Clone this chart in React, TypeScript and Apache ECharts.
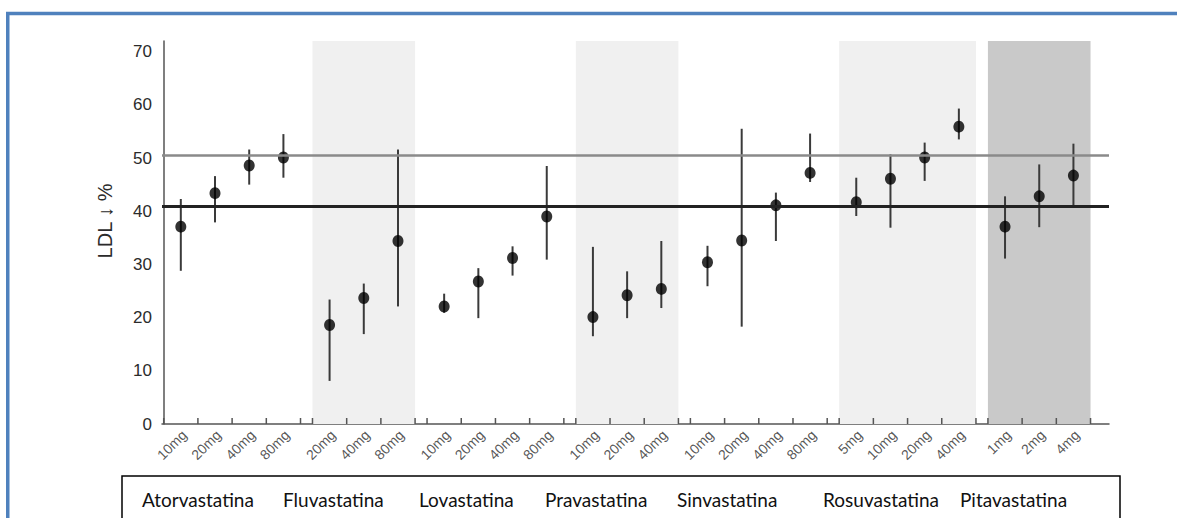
import React, { useEffect, useRef } from "react";
import * as echarts from "echarts";

// ---- data ----
const drugNames = ["Atorvastatina", "Fluvastatina", "Lovastatina", "Pravastatina", "Sinvastatina", "Rosuvastatina", "Pitavastatina"];
const doses = [
  ["10mg", "20mg", "40mg", "80mg"],
  ["20mg", "40mg", "80mg"],
  ["10mg", "20mg", "40mg", "80mg"],
  ["10mg", "20mg", "40mg"],
  ["10mg", "20mg", "40mg", "80mg"],
  ["5mg", "10mg", "20mg", "40mg"],
  ["1mg", "2mg", "4mg"],
];
const means = [
  [37.1, 43.4, 48.6, 50.1],
  [18.6, 23.7, 34.4],
  [22.1, 26.8, 31.2, 39.0],
  [20.1, 24.2, 25.4],
  [30.4, 34.5, 41.1, 47.2],
  [41.7, 46.1, 50.1, 55.9],
  [37.1, 42.8, 46.7],
];
const lows = [
  [28.8, 37.9, 45.0, 46.3],
  [8.1, 16.9, 22.1],
  [20.9, 19.9, 27.9, 30.9],
  [16.5, 19.9, 21.8],
  [25.9, 18.3, 34.4, 45.5],
  [39.1, 36.9, 45.7, 53.5],
  [31.1, 37.0, 41.0],
];
const highs = [
  [42.3, 46.6, 51.6, 54.5],
  [23.4, 26.4, 51.6],
  [24.5, 29.3, 33.4, 48.5],
  [33.3, 28.7, 34.4],
  [33.5, 55.5, 43.5, 54.6],
  [46.3, 50.7, 52.9, 59.3],
  [42.8, 48.8, 52.7],
];
const bandShade = ["none", "light", "none", "light", "none", "light", "dark"];
const refLines = [50.6, 40.95];
const yTicks = [0, 10, 20, 30, 40, 50, 60, 70];
const yAxisName = "LDL \u2193 %";

// ---- layout ----
const GAP = 0.35;
const nameX = [142, 283, 419, 545, 677, 823, 960];

export default function App() {
  const ref = useRef<HTMLDivElement>(null);
  useEffect(() => {
    document.body.style.margin = "0";
    document.body.style.overflow = "hidden";
    if (!ref.current) return;
    const chart = echarts.init(ref.current, undefined, { renderer: "svg" });

    const points: any[] = [];
    const bars: any[] = [];
    const labels: any[] = [];
    const ticks: any[] = [];
    const bands: any[] = [];
    let k = 0;
    doses.forEach((ds, g) => {
      const start = k + g * GAP;
      const end = start + ds.length;
      for (let m = 0; m <= ds.length; m++) ticks.push([start + m, 0]);
      if (bandShade[g] !== "none") {
        bands.push([
          { xAxis: start, itemStyle: { color: bandShade[g] === "dark" ? "#c9c9c9" : "#f0f0f0" } },
          { xAxis: end },
        ]);
      }
      ds.forEach((d, j) => {
        const x = start + j + 0.5;
        points.push([x, means[g][j]]);
        bars.push([x, lows[g][j], highs[g][j]]);
        labels.push([x, 0, d]);
      });
      k += ds.length;
    });

    chart.setOption({
      animation: false,
      grid: { left: 162, right: 68, top: 41, bottom: 94, containLabel: false },
      xAxis: {
        type: "value",
        min: -0.05,
        max: 27.64,
        axisLine: { show: true, lineStyle: { color: "#555", width: 1.5 } },
        axisTick: { show: false },
        axisLabel: { show: false },
        splitLine: { show: false },
      },
      yAxis: {
        type: "value",
        min: 0,
        max: 72,
        interval: 10,
        axisLine: { show: true, lineStyle: { color: "#555", width: 1.5 } },
        axisTick: { show: false },
        splitLine: { show: false },
        axisLabel: {
          margin: 10,
          fontFamily: "Liberation Sans",
          fontSize: 17,
          color: "#2b2b2b",
          padding: [7, 0, 0, 0],
          formatter: (v: number) => (yTicks.includes(v) ? String(v) : ""),
        },
      },
      series: [
        {
          type: "custom",
          z: 1,
          silent: true,
          data: ticks,
          renderItem: (_p: any, api: any) => {
            const p = api.coord([api.value(0), 0]);
            return {
              type: "line",
              shape: { x1: p[0], y1: p[1], x2: p[0], y2: p[1] - 6 },
              style: { stroke: "#555", lineWidth: 1.5 },
            };
          },
          markArea: { silent: true, data: bands },
          markLine: {
            silent: true,
            symbol: "none",
            label: { show: false },
            data: [
              { yAxis: refLines[0], lineStyle: { color: "#8a8a8a", width: 2.5, type: "solid" } },
              { yAxis: refLines[1], lineStyle: { color: "#222", width: 3, type: "solid" } },
            ],
          },
        },
        {
          type: "custom",
          z: 3,
          silent: true,
          data: bars,
          encode: { x: 0, y: [1, 2] },
          renderItem: (_p: any, api: any) => {
            const a = api.coord([api.value(0), api.value(1)]);
            const b = api.coord([api.value(0), api.value(2)]);
            return {
              type: "line",
              shape: { x1: a[0], y1: a[1], x2: b[0], y2: b[1] },
              style: { stroke: "#3a3a3a", lineWidth: 2 },
            };
          },
        },
        {
          type: "scatter",
          z: 4,
          silent: true,
          data: points,
          symbol: "circle",
          symbolSize: [11, 12],
          itemStyle: { color: "#000" },
        },
        {
          type: "scatter",
          z: 2,
          silent: true,
          data: labels,
          symbolSize: 1,
          itemStyle: { color: "rgba(0,0,0,0)" },
          label: {
            show: true,
            formatter: (p: any) => p.value[2],
            position: [4, 9],
            rotate: 45,
            align: "right",
            verticalAlign: "middle",
            fontFamily: "Liberation Sans",
            fontSize: 14,
            color: "#2b2b2b",
          },
        },
      ],
      graphic: [
        {
          type: "line",
          shape: { x1: 6, y1: 13.5, x2: 1177, y2: 13.5 },
          style: { stroke: "#4f81bd", lineWidth: 3.5 },
          silent: true,
        },
        {
          type: "line",
          shape: { x1: 7.75, y1: 12, x2: 7.75, y2: 518 },
          style: { stroke: "#4f81bd", lineWidth: 3.5 },
          silent: true,
        },
        {
          type: "rect",
          shape: { x: 122, y: 476, width: 998, height: 100 },
          style: { fill: "none", stroke: "#000", lineWidth: 1.5 },
          silent: true,
        },
        {
          type: "text",
          x: 105,
          y: 221,
          rotation: Math.PI / 2,
          style: {
            text: yAxisName,
            fontFamily: "Liberation Sans",
            fontSize: 20,
            fill: "#2b2b2b",
            align: "center",
            verticalAlign: "middle",
          },
          silent: true,
        },
        ...drugNames.map((n, i) => ({
          type: "text",
          x: nameX[i],
          y: 499,
          style: {
            text: n,
            fontFamily: "Lato",
            fontSize: 19,
            fill: "#111",
            align: "left",
            verticalAlign: "middle",
          },
          silent: true,
        })),
      ],
    });
    return () => chart.dispose();
  }, []);
  return <div ref={ref} style={{ width: 1177, height: 518 }} />;
}
